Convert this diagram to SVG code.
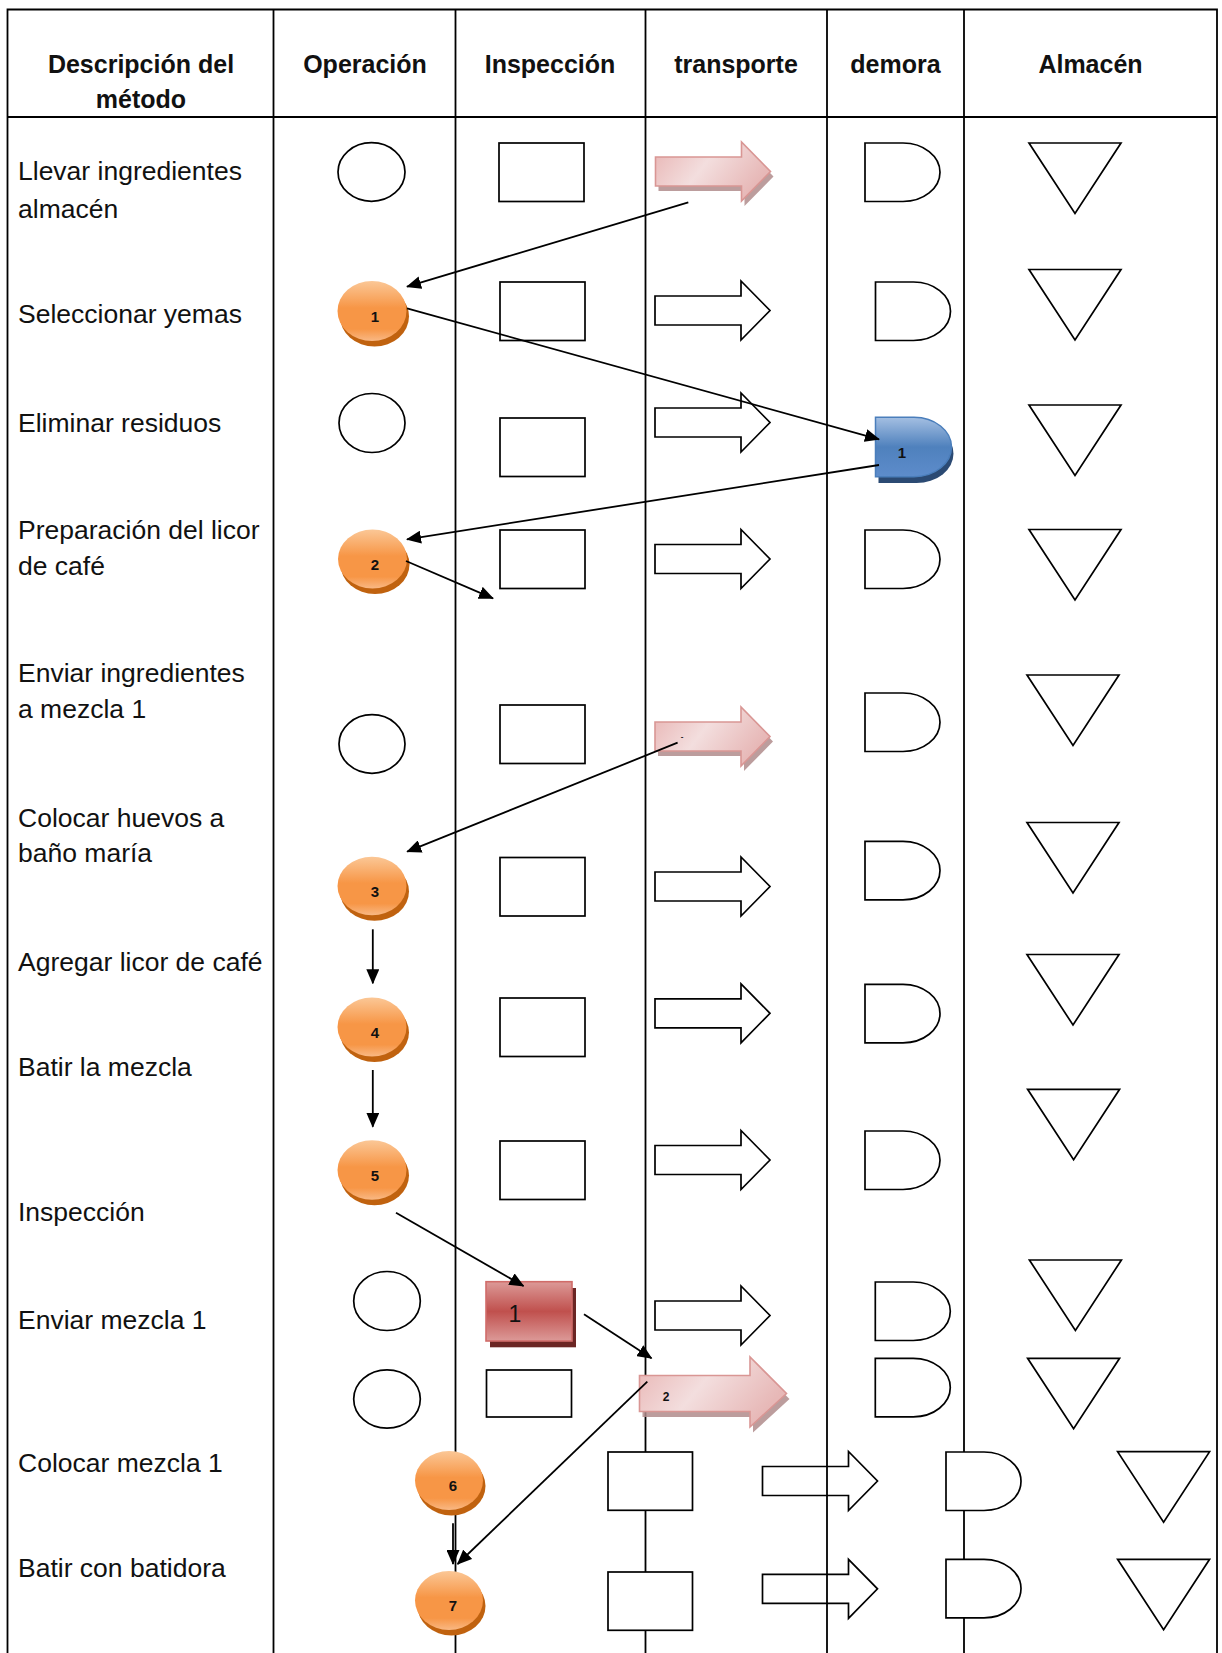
<svg xmlns="http://www.w3.org/2000/svg" xmlns:xlink="http://www.w3.org/1999/xlink" width="1222" height="1653" viewBox="0 0 1222 1653">
<style>
.grid{stroke:#000;stroke-width:1.8;fill:none}
.hd{font-family:"Liberation Sans",Arial,sans-serif;font-weight:bold;font-size:25px;fill:#111;text-anchor:middle}
.tx{font-family:"Liberation Sans",Arial,sans-serif;font-size:26.5px;fill:#111}
.sh{fill:#fff;stroke:#000;stroke-width:1.7}
.lbl{font-family:"Liberation Sans",Arial,sans-serif;font-weight:bold;font-size:15px;fill:#111;text-anchor:middle}
.org{fill:url(#gOrg)}
.orgS{fill:#c0620f}
.pnk{fill:url(#gPnk);stroke:#d99694;stroke-width:1.6}
.pnkS{fill:#b08c8c;opacity:0.85}
.con{stroke:#000;stroke-width:1.8;fill:none;marker-end:url(#ah)}
</style>
<defs>
<linearGradient id="gOrg" x1="0" y1="0" x2="0" y2="1">
<stop offset="0" stop-color="#fbc796"/>
<stop offset="0.45" stop-color="#f79646"/>
<stop offset="0.8" stop-color="#f79646"/>
<stop offset="1" stop-color="#f9b884"/>
</linearGradient>
<linearGradient id="gBlu" x1="0" y1="0" x2="0" y2="1">
<stop offset="0" stop-color="#a4bfe2"/>
<stop offset="0.5" stop-color="#4f81bd"/>
<stop offset="1" stop-color="#5d8ccb"/>
</linearGradient>
<linearGradient id="gRed" x1="0" y1="0" x2="0" y2="1">
<stop offset="0" stop-color="#dc9a98"/>
<stop offset="0.5" stop-color="#c0504d"/>
<stop offset="1" stop-color="#dc9a98"/>
</linearGradient>
<linearGradient id="gPnk" x1="0" y1="0" x2="1" y2="0.4">
<stop offset="0" stop-color="#e8b4b3"/>
<stop offset="0.5" stop-color="#f3dede"/>
<stop offset="1" stop-color="#e7b8b7"/>
</linearGradient>
<path id="arrW" d="M0,-14.5 H86 V-29.5 L115,0 L86,29.5 V14.5 H0 Z"/>
<path id="arrB" d="M0,-18 H110.5 V-36.5 L147,0 L110.5,33.5 V18 H0 Z"/>
<path id="dly" d="M0,0 H38 A37,29.25 0 0 1 38,58.5 H0 Z"/>
<path id="tri" d="M0,0 H92 L46,70.5 Z"/>
<marker id="ah" markerWidth="15" markerHeight="13" refX="14" refY="6.5" orient="auto" markerUnits="userSpaceOnUse">
<path d="M0,0 L15,6.5 L0,13 Z" fill="#000"/>
</marker>
</defs>
<rect width="1222" height="1653" fill="#fff"/>

<g id="table">
<path class="grid" d="M7.5,1653 V9.5 H1217 V1653 M7.5,117 H1217 M273.5,9.5 V1653 M455.5,9.5 V1653 M645.5,9.5 V1653 M827,9.5 V1653 M964,9.5 V1653"/>
<text class="hd" x="141" y="72.5">Descripción del</text>
<text class="hd" x="141" y="108">método</text>
<text class="hd" x="365" y="72.5">Operación</text>
<text class="hd" x="550" y="72.5">Inspección</text>
<text class="hd" x="736" y="72.5">transporte</text>
<text class="hd" x="895.5" y="72.5">demora</text>
<text class="hd" x="1090.5" y="72.5">Almacén</text>
</g>

<g id="descriptions">
<text class="tx" x="18" y="180">Llevar ingredientes</text>
<text class="tx" x="18" y="217.5">almacén</text>
<text class="tx" x="18" y="322.5">Seleccionar yemas</text>
<text class="tx" x="18" y="431.5">Eliminar residuos</text>
<text class="tx" x="18" y="539">Preparación del licor</text>
<text class="tx" x="18" y="574.5">de café</text>
<text class="tx" x="18" y="682">Enviar ingredientes</text>
<text class="tx" x="18" y="717.5">a mezcla 1</text>
<text class="tx" x="18" y="826.5">Colocar huevos a</text>
<text class="tx" x="18" y="861.5">baño maría</text>
<text class="tx" x="18" y="971">Agregar licor de café</text>
<text class="tx" x="18" y="1076">Batir la mezcla</text>
<text class="tx" x="18" y="1221">Inspección</text>
<text class="tx" x="18" y="1329">Enviar mezcla 1</text>
<text class="tx" x="18" y="1471.5">Colocar mezcla 1</text>
<text class="tx" x="18" y="1577">Batir con batidora</text>
</g>

<g id="row1">
<ellipse class="sh" cx="371.5" cy="172" rx="33.5" ry="29.3"/>
<rect class="sh" x="499" y="143" width="85" height="58.5"/>
<g id="transporte-1">
<use href="#arrW" x="658.5" y="176.5" class="pnkS"/>
<use href="#arrW" x="655.5" y="171.5" class="pnk"/>
</g>
<use href="#dly" x="865" y="143" class="sh"/>
<use href="#tri" x="1029" y="143" class="sh"/>
</g>

<g id="row2">
<g id="operacion-1">
<ellipse class="orgS" cx="374.5" cy="316.5" rx="34.5" ry="30"/>
<ellipse class="org" cx="372" cy="311" rx="34.5" ry="30"/>
<text class="lbl" x="375" y="322">1</text>
</g>
<rect class="sh" x="500" y="282" width="85" height="58.5"/>
<use href="#arrW" x="655" y="310.5" class="sh"/>
<use href="#dly" x="875.5" y="282" class="sh"/>
<use href="#tri" x="1029" y="269.5" class="sh"/>
</g>

<g id="row3">
<ellipse class="sh" cx="372" cy="423" rx="33" ry="29.5"/>
<rect class="sh" x="500" y="418" width="85" height="58.5"/>
<use href="#arrW" x="655" y="422.5" class="sh"/>
<g id="demora-1">
<use href="#dly" x="878.5" y="424.5" fill="#2b4a73"/>
<path d="M875.5,417.3 H914 A37.5,29.7 0 0 1 914,476.7 H875.5 Z" fill="url(#gBlu)" stroke="#4a7ebb" stroke-width="1.5"/>
<text class="lbl" x="902" y="458">1</text>
</g>
<use href="#tri" x="1029" y="405" class="sh"/>
</g>

<g id="row4">
<g id="operacion-2">
<ellipse class="orgS" cx="375" cy="564.5" rx="34.5" ry="29.5"/>
<ellipse class="org" cx="372.5" cy="559" rx="34.5" ry="29.5"/>
<text class="lbl" x="375" y="570">2</text>
</g>
<rect class="sh" x="500" y="530" width="85" height="58.5"/>
<use href="#arrW" x="655" y="559" class="sh"/>
<use href="#dly" x="865" y="530" class="sh"/>
<use href="#tri" x="1029" y="529.5" class="sh"/>
</g>

<g id="row5">
<ellipse class="sh" cx="372" cy="744" rx="33" ry="29.3"/>
<rect class="sh" x="500" y="705" width="85" height="58.5"/>
<g id="transporte-2">
<use href="#arrW" x="658" y="741.5" class="pnkS"/>
<use href="#arrW" x="655" y="736.5" class="pnk"/>
<text class="lbl" x="682" y="739" style="font-size:8px">-</text>
</g>
<use href="#dly" x="865" y="693" class="sh"/>
<use href="#tri" x="1027" y="675" class="sh"/>
</g>

<g id="row6">
<g id="operacion-3">
<ellipse class="orgS" cx="374.5" cy="891.5" rx="34.5" ry="29.3"/>
<ellipse class="org" cx="372" cy="886" rx="34.5" ry="29.3"/>
<text class="lbl" x="375" y="897">3</text>
</g>
<rect class="sh" x="500" y="857.5" width="85" height="58.5"/>
<use href="#arrW" x="655" y="886.5" class="sh"/>
<use href="#dly" x="865" y="841.3" class="sh"/>
<use href="#tri" x="1027" y="822.5" class="sh"/>
</g>

<g id="row7">
<g id="operacion-4">
<ellipse class="orgS" cx="374.5" cy="1032.5" rx="34.5" ry="29.5"/>
<ellipse class="org" cx="372" cy="1027" rx="34.5" ry="29.5"/>
<text class="lbl" x="375" y="1038">4</text>
</g>
<rect class="sh" x="500" y="998" width="85" height="58.5"/>
<use href="#arrW" x="655" y="1013.3" class="sh"/>
<use href="#dly" x="865" y="984.3" class="sh"/>
<use href="#tri" x="1027" y="954.5" class="sh"/>
</g>

<g id="row8">
<g id="operacion-5">
<ellipse class="orgS" cx="374.5" cy="1175.5" rx="34.5" ry="29.7"/>
<ellipse class="org" cx="372" cy="1170" rx="34.5" ry="29.7"/>
<text class="lbl" x="375" y="1181">5</text>
</g>
<rect class="sh" x="500" y="1141" width="85" height="58.5"/>
<use href="#arrW" x="655" y="1160" class="sh"/>
<use href="#dly" x="865" y="1131" class="sh"/>
<use href="#tri" x="1027.6" y="1089.3" class="sh"/>
</g>

<g id="row10">
<ellipse class="sh" cx="387" cy="1301" rx="33.3" ry="29.5"/>
<g id="inspeccion-1">
<rect x="490" y="1288" width="86" height="59.3" fill="#6b2624"/>
<rect x="486" y="1281.7" width="86" height="59.3" fill="url(#gRed)" stroke="#d06c69" stroke-width="1.6"/>
<text x="515" y="1321.5" font-family="Liberation Sans, Arial, sans-serif" font-size="23" fill="#111" text-anchor="middle">1</text>
</g>
<use href="#arrW" x="655" y="1315.5" class="sh"/>
<use href="#dly" x="875.3" y="1282" class="sh"/>
<use href="#tri" x="1029.4" y="1260" class="sh"/>
</g>

<g id="row11">
<ellipse class="sh" cx="387" cy="1399" rx="33.3" ry="29.2"/>
<rect class="sh" x="486.5" y="1370" width="85" height="47"/>
<g id="transporte-3">
<use href="#arrB" x="642.5" y="1399" class="pnkS"/>
<use href="#arrB" x="639.5" y="1393.5" class="pnk"/>
<text class="lbl" x="666" y="1401" style="font-size:12px">2</text>
</g>
<use href="#dly" x="875.3" y="1358.3" class="sh"/>
<use href="#tri" x="1027.6" y="1358.3" class="sh"/>
</g>

<g id="row12">
<g id="operacion-6">
<ellipse class="orgS" cx="451.5" cy="1486" rx="34" ry="29.5"/>
<ellipse class="org" cx="449" cy="1480.5" rx="34" ry="29.5"/>
<text class="lbl" x="453" y="1491">6</text>
</g>
<rect class="sh" x="608" y="1452" width="84.5" height="58.3"/>
<use href="#arrW" x="762.5" y="1481" class="sh" style="fill:none"/>
<use href="#dly" x="946" y="1452" class="sh"/>
<use href="#tri" x="1117.6" y="1451.7" class="sh"/>
</g>

<g id="row13">
<g id="operacion-7">
<ellipse class="orgS" cx="451.5" cy="1606" rx="34" ry="29.5"/>
<ellipse class="org" cx="449" cy="1600.5" rx="34" ry="29.5"/>
<text class="lbl" x="453" y="1611">7</text>
</g>
<rect class="sh" x="608" y="1572" width="84.5" height="58.3"/>
<use href="#arrW" x="762.5" y="1588.8" class="sh" style="fill:none"/>
<use href="#dly" x="946" y="1559.3" class="sh"/>
<use href="#tri" x="1117.6" y="1559.3" class="sh"/>
</g>

<g id="connectors">
<line class="con" x1="688.3" y1="202.3" x2="407" y2="286.7"/>
<line class="con" x1="407" y1="308.3" x2="879" y2="439.3"/>
<line class="con" x1="879" y1="465" x2="407" y2="539.3"/>
<line class="con" x1="406" y1="561" x2="493" y2="598.3"/>
<line class="con" x1="677.6" y1="742.7" x2="407.2" y2="851.7"/>
<line class="con" x1="372.8" y1="929.3" x2="372.8" y2="983.3"/>
<line class="con" x1="372.8" y1="1070" x2="372.8" y2="1126.7"/>
<line class="con" x1="396" y1="1212.7" x2="523.5" y2="1286"/>
<line class="con" x1="584" y1="1314.3" x2="651.5" y2="1358.3"/>
<line class="con" x1="647.3" y1="1381.7" x2="457.6" y2="1564"/>
<line class="con" x1="453" y1="1523.3" x2="453" y2="1564"/>
</g>
</svg>
